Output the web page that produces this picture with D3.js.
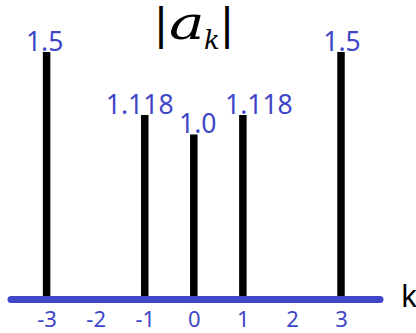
<!DOCTYPE html>
<html>
<head>
<meta charset="utf-8">
<script src="https://cdn.jsdelivr.net/npm/d3@7"></script>
<style>
  html, body { margin: 0; padding: 0; background: #fff; overflow: hidden; }
  svg { display: block; }
</style>
</head>
<body>
<script>
// ---- data ----
const ks = [-3, -1, 0, 1, 3];
const magnitudes = [1.5, 1.118, 1.0, 1.118, 1.5];
const valueLabels = ["1.5", "1.118", "1.0", "1.118", "1.5"];
const tickValues = [-3, -2, -1, 0, 1, 2, 3];
const tickLabels = ["-3", "-2", "-1", "0", "1", "2", "3"];
const axisName = "k";

// ---- layout (label nudges, not data) ----
const labelDx = [-2, -5, 4, 16, 1];
const W = 416, H = 333;
const blue = "#4046c8";
const baseY = 299.5;

const svg = d3.select("body").append("svg")
  .attr("width", W).attr("height", H);
svg.append("rect").attr("width", W).attr("height", H).attr("fill", "#fff");

const x = d3.scaleLinear().domain([-3, 3]).range([46.6, 341]);
const y = d3.scaleLinear().domain([0, 1.5]).range([baseY, 52]);

const data = ks.map((k, i) => ({ k, v: magnitudes[i], label: valueLabels[i], dx: labelDx[i] }));

// stems
svg.append("g").selectAll("line")
  .data(data).join("line")
  .attr("x1", d => x(d.k)).attr("x2", d => x(d.k))
  .attr("y1", y(0)).attr("y2", d => y(d.v))
  .attr("stroke", "#000").attr("stroke-width", 7.5);

// value labels
svg.append("g").selectAll("text")
  .data(data).join("text")
  .attr("x", d => x(d.k) + d.dx).attr("y", d => y(d.v) - 1.5)
  .attr("text-anchor", "middle")
  .attr("font-family", "'Noto Sans', sans-serif")
  .attr("font-size", 26.5)
  .attr("fill", blue)
  .text(d => d.label);

// horizontal axis line
svg.append("line")
  .attr("x1", 11).attr("x2", 380)
  .attr("y1", baseY).attr("y2", baseY)
  .attr("stroke", blue).attr("stroke-width", 7)
  .attr("stroke-linecap", "round");

// tick labels via d3 axis
const axis = d3.axisBottom(x)
  .tickValues(tickValues)
  .tickSize(0)
  .tickPadding(11.8)
  .tickFormat((d, i) => tickLabels[i]);
const ag = svg.append("g").attr("transform", `translate(0,${baseY})`).call(axis);
ag.attr("font-family", "'Noto Sans', sans-serif").attr("font-size", 22);
ag.select(".domain").remove();
ag.selectAll("text").attr("fill", blue);

// axis name
svg.append("text")
  .attr("x", 401).attr("y", 306.5)
  .attr("font-family", "'Noto Sans', sans-serif")
  .attr("font-size", 30)
  .attr("fill", "#000")
  .text(axisName);

// title |a_k|
const tg = svg.append("g").attr("fill", "#000");
tg.append("text").attr("x", 161).attr("y", 39).attr("text-anchor", "middle")
  .attr("font-family", "'DejaVu Sans', sans-serif").attr("font-size", 43).text("|");
tg.append("text").attr("transform", "translate(169,39) scale(1.3,1)")
  .attr("font-family", "'DejaVu Serif', serif").attr("font-style", "italic")
  .attr("font-size", 46).text("a");
tg.append("text").attr("x", 204).attr("y", 49)
  .attr("font-family", "'DejaVu Serif', serif").attr("font-style", "italic")
  .attr("font-size", 26).text("k");
tg.append("text").attr("x", 227).attr("y", 39).attr("text-anchor", "middle")
  .attr("font-family", "'DejaVu Sans', sans-serif").attr("font-size", 43).text("|");
</script>
</body>
</html>
